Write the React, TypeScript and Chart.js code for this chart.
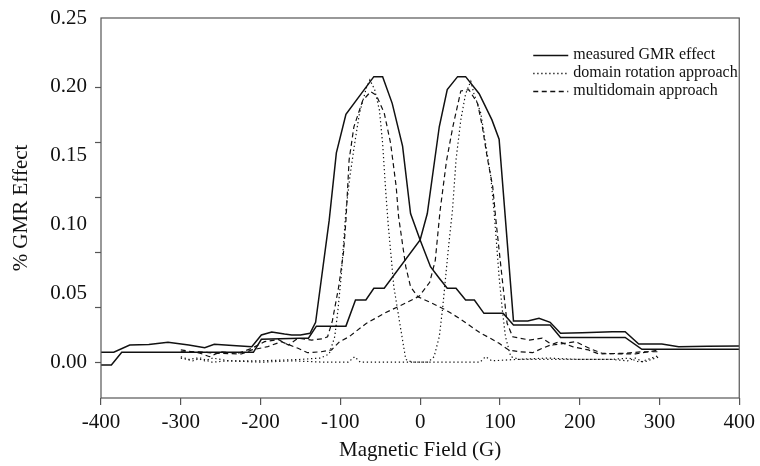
import React, { useEffect, useRef } from "react";
import { Chart, registerables } from "chart.js";

Chart.register(...registerables);

// ---------- data ----------
// measured GMR effect, sweep with the left peak
const MEAS_A_FIELD = [-400, -384, -364, -340, -316, -290, -270, -258, -235, -211, -199, -186, -170, -161, -150, -138, -131, -114, -105, -93, -58, -47, -35, -22, -12, 0, 13, 24, 34, 45, 57, 68, 80, 104, 117, 163, 176, 257, 278, 400];
const MEAS_A_GMR = [0.0072, 0.0072, 0.0125, 0.0128, 0.0145, 0.0125, 0.0105, 0.013, 0.0122, 0.0113, 0.0198, 0.022, 0.0205, 0.0198, 0.0198, 0.021, 0.029, 0.103, 0.152, 0.18, 0.2074, 0.2074, 0.188, 0.157, 0.108, 0.0888, 0.0694, 0.061, 0.0537, 0.0537, 0.0452, 0.0452, 0.0355, 0.0355, 0.027, 0.027, 0.018, 0.018, 0.0094, 0.0094];
// measured GMR effect, sweep with the right peak
const MEAS_B_FIELD = [-400, -387, -374, -209, -199, -151, -140, -130, -93, -81, -68, -58, -45, 0, 9, 24, 34, 47, 57, 74, 90, 99, 117, 135, 149, 163, 176, 203, 241, 257, 274, 303, 324, 360, 400];
const MEAS_B_GMR = [-0.002, -0.002, 0.0072, 0.0072, 0.0166, 0.0174, 0.0174, 0.0262, 0.0262, 0.0452, 0.0452, 0.0537, 0.0537, 0.0888, 0.108, 0.171, 0.198, 0.2074, 0.2074, 0.195, 0.176, 0.162, 0.03, 0.03, 0.0319, 0.029, 0.021, 0.0214, 0.0222, 0.0222, 0.0132, 0.0132, 0.0113, 0.0115, 0.0118];

// domain rotation approach
const ROT_A_FIELD = [-300, -290, -280, -270, -260, -240, -200, -150, -125, -114, -107, -103, -99, -93, -88, -82, -76, -67, -63, -57, -51, -47, -43, -40, -33, -26, -18, -10, 20, 50, 75, 82, 90, 120, 160, 200, 240, 262, 275, 285, 300];
const ROT_A_GMR = [0.004, 0.002, 0.003, 0.001, 0.003, 0.001, 0.001, 0.002, 0.003, 0.006, 0.0185, 0.038, 0.062, 0.11, 0.135, 0.159, 0.181, 0.2, 0.205, 0.198, 0.183, 0.159, 0.123, 0.1, 0.055, 0.03, 0.002, 0.0, 0.0, 0.0, 0.0, 0.004, 0.001, 0.002, 0.003, 0.002, 0.002, 0.003, 0.0, 0.002, 0.005];
const ROT_B_FIELD = [-300, -285, -275, -262, -240, -200, -160, -120, -90, -82, -75, -50, -20, 10, 17.5, 24, 28, 32, 36, 40.5, 45, 51, 57, 63.5, 67.5, 76, 82, 88.5, 92.6, 99, 103, 107, 113.6, 125, 150, 200, 240, 260, 270, 280, 300];
const ROT_B_GMR = [0.003, 0.001, 0.003, 0.0, 0.001, 0.0, 0.001, 0.0, 0.0, 0.004, 0.0, 0.0, 0.0, 0.0, 0.004, 0.0185, 0.038, 0.062, 0.086, 0.11, 0.147, 0.176, 0.195, 0.204, 0.195, 0.181, 0.159, 0.135, 0.11, 0.062, 0.038, 0.0185, 0.004, 0.002, 0.002, 0.002, 0.002, 0.001, 0.003, 0.0, 0.004];

// multidomain approach
const MULTI_A_FIELD = [-300, -276, -264, -250, -228, -211, -195, -178, -165, -153, -136, -122, -116, -110, -102, -96, -93, -89, -83, -72, -62, -55, -45, -37, -30, -27, -18, -12, -3, 15, 32, 49, 76, 88, 99, 111, 124, 141, 153, 174, 191, 211, 224, 257, 278, 300];
const MULTI_A_GMR = [0.009, 0.0066, 0.004, 0.0076, 0.0065, 0.0101, 0.0149, 0.0165, 0.0125, 0.0174, 0.0161, 0.017, 0.0185, 0.03, 0.055, 0.08, 0.103, 0.147, 0.171, 0.19, 0.1965, 0.194, 0.181, 0.159, 0.1275, 0.1057, 0.0694, 0.0548, 0.0476, 0.0428, 0.038, 0.0319, 0.021, 0.0174, 0.0137, 0.0089, 0.0076, 0.0069, 0.0101, 0.0149, 0.0113, 0.0089, 0.006, 0.0065, 0.0076, 0.0076];
const MULTI_B_FIELD = [-300, -278, -257, -224, -211, -191, -174, -153, -141, -124, -111, -101, -89, -68, -45, -18, -1, 12, 19, 25, 33, 41, 51, 61, 72, 78, 84, 91, 95, 103, 109, 116, 137, 153, 166, 195, 212, 228, 249, 270, 300];
const MULTI_B_GMR = [0.0076, 0.0076, 0.0065, 0.006, 0.0089, 0.0113, 0.0149, 0.0101, 0.0069, 0.0076, 0.0089, 0.0149, 0.0185, 0.028, 0.0355, 0.043, 0.048, 0.058, 0.074, 0.11, 0.146, 0.171, 0.197, 0.198, 0.188, 0.171, 0.149, 0.1275, 0.103, 0.06, 0.0283, 0.0185, 0.0161, 0.0174, 0.0125, 0.0149, 0.0101, 0.0065, 0.006, 0.006, 0.0089];

const LEGEND_LABELS = ["measured GMR effect", "domain rotation approach", "multidomain approach"];
const X_MIN = -400;
const X_MAX = 400;
const X_STEP = 100;
const Y_MIN = -0.026;
const Y_MAX = 0.25;
const Y_LABEL_TICKS = [0, 0.05, 0.1, 0.15, 0.2, 0.25];
const Y_MARK_TICKS = [0, 0.04, 0.08, 0.12, 0.16, 0.2];
const X_TITLE = "Magnetic Field (G)";
const Y_TITLE = "% GMR Effect";

// ---------- styles ----------
const FONT = '"Liberation Serif", "Times New Roman", serif';
const INK = "#111111";
const AXIS = "#555555";
const DASH_SOLID: number[] = [];
const DASH_DOT = [1.3, 2.7];
const DASH_DASH = [5, 3.5];
const LEGEND_DASHES = [DASH_SOLID, DASH_DOT, DASH_DASH];

const zip = (xs: number[], ys: number[]) => xs.map((x, i) => ({ x, y: ys[i] }));

const framePlugin = {
  id: "frameAndLegend",
  afterDraw(chart: any) {
    const { ctx, chartArea: a, scales } = chart;
    const y = scales.y;
    ctx.save();
    ctx.strokeStyle = AXIS;
    ctx.lineWidth = 1.2;
    ctx.setLineDash([]);
    ctx.strokeRect(a.left, a.top, a.right - a.left, a.bottom - a.top);
    for (const v of Y_MARK_TICKS) {
      const py = Math.round(y.getPixelForValue(v)) + 0.5;
      ctx.beginPath();
      ctx.moveTo(a.left - 6, py);
      ctx.lineTo(a.left, py);
      ctx.stroke();
    }
    // legend inside the plot, top right
    ctx.font = `16px ${FONT}`;
    ctx.textBaseline = "middle";
    ctx.textAlign = "left";
    ctx.fillStyle = INK;
    LEGEND_LABELS.forEach((label, i) => {
      const yy = a.top + 37 + i * 18;
      const x0 = a.right - 206;
      const x1 = a.right - 171;
      ctx.strokeStyle = INK;
      ctx.lineWidth = i === 0 ? 1.5 : 1.3;
      ctx.setLineDash(LEGEND_DASHES[i]);
      ctx.beginPath();
      ctx.moveTo(x0, yy + 0.5);
      ctx.lineTo(x1, yy + 0.5);
      ctx.stroke();
      ctx.setLineDash([]);
      ctx.fillText(label, x1 + 5, yy);
    });
    ctx.restore();
  },
};

export default function App() {
  const canvasRef = useRef<HTMLCanvasElement | null>(null);

  useEffect(() => {
    if (!canvasRef.current) return;
    const line = (label: string, xs: number[], ys: number[], dash: number[], width: number) => ({
      label,
      data: zip(xs, ys),
      borderColor: INK,
      borderWidth: width,
      borderDash: dash,
      pointRadius: 0,
      tension: 0,
      fill: false,
    });
    const chart = new Chart(canvasRef.current, {
      type: "line",
      data: {
        datasets: [
          line(LEGEND_LABELS[2], MULTI_A_FIELD, MULTI_A_GMR, DASH_DASH, 1.2),
          line(LEGEND_LABELS[2], MULTI_B_FIELD, MULTI_B_GMR, DASH_DASH, 1.2),
          line(LEGEND_LABELS[1], ROT_A_FIELD, ROT_A_GMR, DASH_DOT, 1.2),
          line(LEGEND_LABELS[1], ROT_B_FIELD, ROT_B_GMR, DASH_DOT, 1.2),
          line(LEGEND_LABELS[0], MEAS_A_FIELD, MEAS_A_GMR, DASH_SOLID, 1.5),
          line(LEGEND_LABELS[0], MEAS_B_FIELD, MEAS_B_GMR, DASH_SOLID, 1.5),
        ],
      },
      options: {
        animation: false,
        responsive: true,
        maintainAspectRatio: false,
        layout: { padding: { top: 18, right: 20, left: 0, bottom: 0 } },
        plugins: { legend: { display: false }, tooltip: { enabled: false } },
        scales: {
          x: {
            type: "linear",
            min: X_MIN,
            max: X_MAX,
            ticks: {
              stepSize: X_STEP,
              color: INK,
              padding: 5,
              font: { family: FONT, size: 21 },
              maxRotation: 0,
            },
            grid: { display: true, drawOnChartArea: false, drawTicks: true, tickLength: 7, color: AXIS, lineWidth: 1.2 },
            border: { display: false },
            title: { display: true, text: X_TITLE, color: INK, font: { family: FONT, size: 21 }, padding: { top: 0, bottom: 3 } },
            afterFit: (s: any) => { s.height = 68; },
          },
          y: {
            type: "linear",
            min: Y_MIN,
            max: Y_MAX,
            afterBuildTicks: (s: any) => { s.ticks = Y_LABEL_TICKS.map((v) => ({ value: v })); },
            ticks: {
              color: INK,
              padding: 1,
              font: { family: FONT, size: 21 },
              callback: (v: any) => Number(v).toFixed(2),
            },
            grid: { display: true, drawOnChartArea: false, drawTicks: true, tickLength: 13, color: "rgba(0,0,0,0)" },
            border: { display: false },
            title: { display: true, text: Y_TITLE, color: INK, font: { family: FONT, size: 21 }, padding: { top: 9, bottom: 0 } },
            afterFit: (s: any) => { s.width = 101; },
          },
        },
      },
      plugins: [framePlugin],
    } as any);
    return () => chart.destroy();
  }, []);

  return (
    <div style={{ position: "absolute", left: 0, top: 0, width: 760, height: 466, background: "#fff" }}>
      <canvas ref={canvasRef} />
    </div>
  );
}
